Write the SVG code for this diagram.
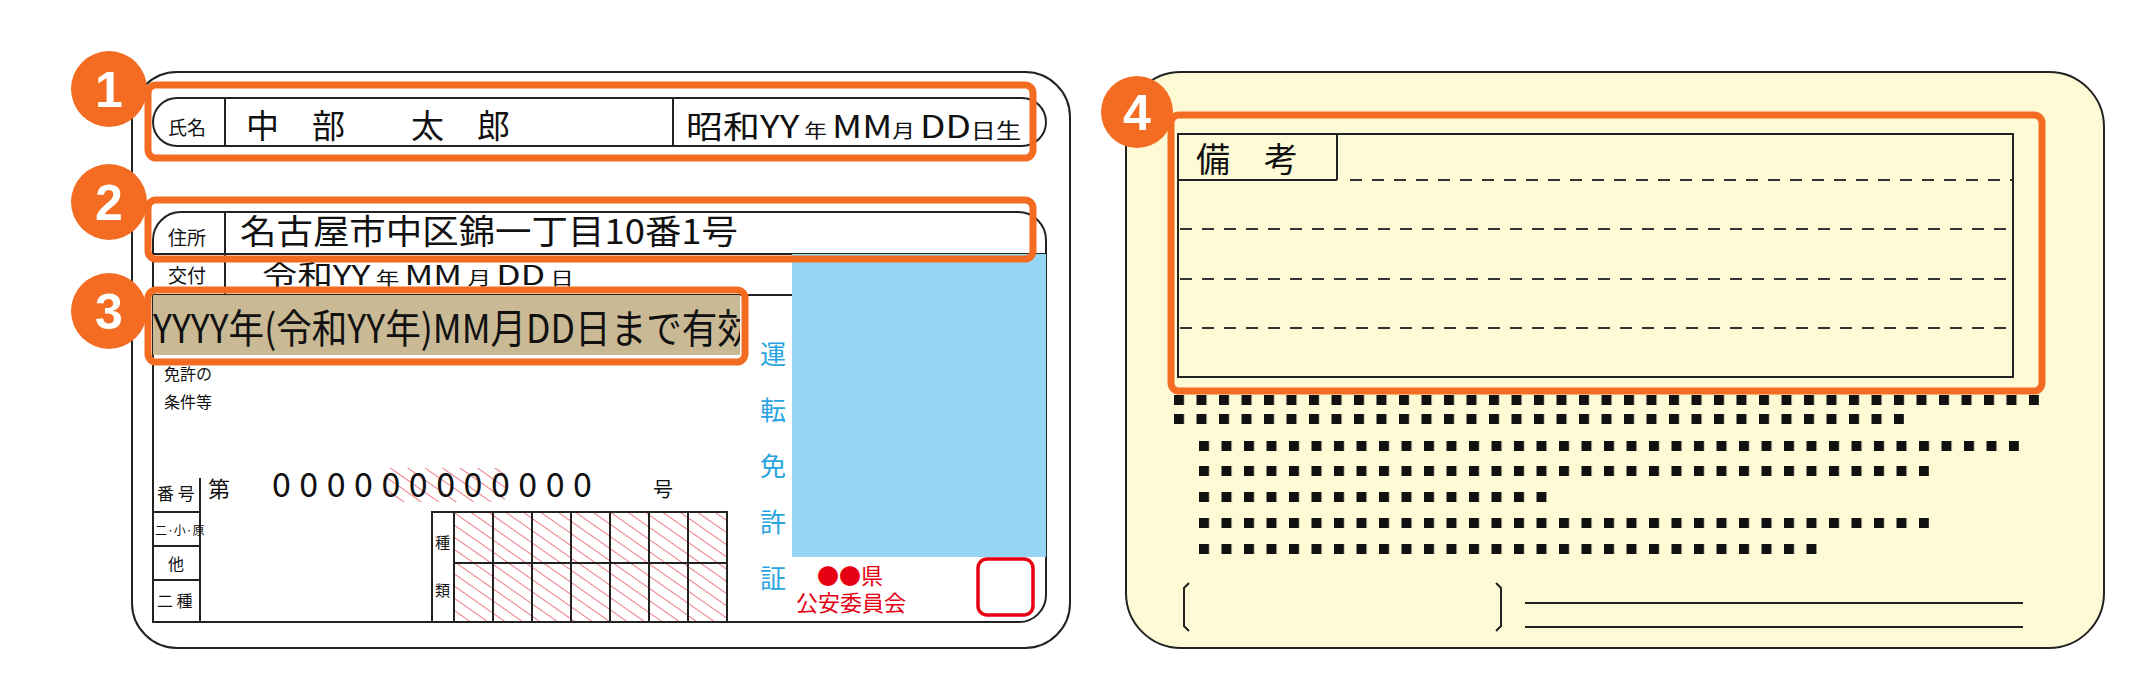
<svg xmlns="http://www.w3.org/2000/svg" width="2142" height="700" viewBox="0 0 2142 700">
<style>
.ln{fill:none;stroke:#222;stroke-width:2}
.or{fill:none;stroke:#f36c21;stroke-width:7}
.t{font-family:"Noto Sans CJK JP","Liberation Sans",sans-serif;fill:#111}
.bt{font-family:"Liberation Sans",sans-serif;font-weight:bold;fill:#fff;font-size:50px;text-anchor:middle}
.dash{stroke:#333;stroke-width:2;stroke-dasharray:12 10}
</style>
<defs>
<pattern id="hatch" width="10" height="10" patternUnits="userSpaceOnUse" patternTransform="rotate(-55)">
<rect width="10" height="10" fill="#fff"/>
<line x1="0" y1="0" x2="0" y2="10" stroke="#e8505b" stroke-width="1.5"/>
</pattern>
<pattern id="sqa" x="1174" y="0" width="22.5" height="10" patternUnits="userSpaceOnUse"><rect width="10" height="10" fill="#111"/></pattern>
<pattern id="sqb" x="1199" y="0" width="22.5" height="10" patternUnits="userSpaceOnUse"><rect width="10" height="10" fill="#111"/></pattern>
<clipPath id="c3"><rect x="153" y="295" width="587" height="60"/></clipPath>
</defs>
<rect width="2142" height="700" fill="#fff"/>
<g id="front-card">
<rect x="132" y="72" width="938" height="576" rx="45" class="ln" fill="#fff"/>
<rect x="153" y="98" width="893" height="48" rx="24" class="ln"/>
<line x1="225" y1="98" x2="225" y2="146" class="ln"/>
<line x1="673" y1="98" x2="673" y2="146" class="ln"/>
<text x="168" y="135" class="t" font-size="19">氏名</text>
<text x="246" y="138" class="t" font-size="33">中　部　　太　郎</text>
<text x="686" y="138" class="t" font-size="31" textLength="335" lengthAdjust="spacingAndGlyphs">昭和YY<tspan font-size="19"> 年 </tspan>MM<tspan font-size="19">月 </tspan>DD<tspan font-size="21">日生</tspan></text>
<path d="M153,622 V240 a28,28 0 0 1 28,-28 H1018 a28,28 0 0 1 28,28 V595 a27,27 0 0 1 -27,27 Z" class="ln"/>
<line x1="153" y1="622" x2="1019" y2="622" class="ln"/>
<line x1="225" y1="212" x2="225" y2="295" class="ln"/>
<line x1="153" y1="254" x2="1046" y2="254" class="ln"/>
<text x="168" y="245" class="t" font-size="19">住所</text>
<text x="240" y="244" class="t" font-size="34" textLength="498" lengthAdjust="spacingAndGlyphs">名古屋市中区錦一丁目10番1号</text>
<rect x="792" y="254" width="254" height="303" fill="#96d5f3"/>
<text x="168" y="283" class="t" font-size="19">交付</text>
<text x="262" y="285" class="t" font-size="27" textLength="312" lengthAdjust="spacingAndGlyphs">令和YY<tspan font-size="18"> 年 </tspan>MM<tspan font-size="18"> 月 </tspan>DD<tspan font-size="18"> 日</tspan></text>
<line x1="153" y1="295" x2="792" y2="295" class="ln"/>
<rect x="153" y="295" width="587" height="60" fill="#c9b995"/>
<text x="153" y="343" class="t" font-size="40" clip-path="url(#c3)" textLength="600" lengthAdjust="spacingAndGlyphs">YYYY年(令和YY年)MM月DD日まで有効</text>
<text x="164" y="380" class="t" font-size="16">免許の</text>
<text x="164" y="408" class="t" font-size="16">条件等</text>
<g class="t" font-size="26" style="fill:#2aa4e0">
<text x="760" y="364">運</text><text x="760" y="420">転</text><text x="760" y="476">免</text><text x="760" y="532">許</text><text x="760" y="588">証</text>
</g>
<line x1="200" y1="478" x2="200" y2="622" class="ln"/>
<line x1="153" y1="512" x2="200" y2="512" class="ln"/>
<line x1="153" y1="546" x2="200" y2="546" class="ln"/>
<line x1="153" y1="580" x2="200" y2="580" class="ln"/>
<text x="157" y="500" class="t" font-size="17">番 号</text>
<text x="155" y="535" class="t" font-size="12">二·小·原</text>
<text x="168" y="570" class="t" font-size="16">他</text>
<text x="157" y="607" class="t" font-size="16">二 種</text>
<text x="208" y="497" class="t" font-size="22">第</text>
<rect x="387" y="468" width="118" height="34" fill="url(#hatch)"/>
<text x="272" y="497" class="t" font-size="34" letter-spacing="8.5">000000000000</text>
<text x="653" y="497" class="t" font-size="20">号</text>
<rect x="454" y="512" width="273" height="110" fill="url(#hatch)"/>
<g class="ln">
<rect x="432" y="512" width="295" height="110"/>
<line x1="454" y1="512" x2="454" y2="622"/>
<line x1="454" y1="563" x2="727" y2="563"/>
<line x1="493" y1="512" x2="493" y2="622"/><line x1="532" y1="512" x2="532" y2="622"/>
<line x1="571" y1="512" x2="571" y2="622"/><line x1="610" y1="512" x2="610" y2="622"/>
<line x1="649" y1="512" x2="649" y2="622"/><line x1="688" y1="512" x2="688" y2="622"/>
</g>
<text x="435" y="548" class="t" font-size="15">種</text>
<text x="435" y="596" class="t" font-size="15">類</text>
<text x="817" y="584" class="t" font-size="22" style="fill:#e60012">●●県</text>
<text x="796" y="611" class="t" font-size="22" style="fill:#e60012">公安委員会</text>
<rect x="978" y="559" width="55" height="56" rx="9" fill="none" stroke="#e60012" stroke-width="3.5"/>
</g>
<g id="back-card">
<rect x="1126" y="72" width="978" height="576" rx="55" fill="#fffad6" stroke="#222" stroke-width="2"/>
<rect x="1178" y="134" width="835" height="243" class="ln"/>
<line x1="1337" y1="134" x2="1337" y2="180" class="ln"/>
<line x1="1178" y1="180" x2="1337" y2="180" class="ln"/>
<text x="1196" y="172" class="t" font-size="34">備　考</text>
<line x1="1350" y1="180" x2="2013" y2="180" class="dash"/>
<line x1="1180" y1="229" x2="2013" y2="229" class="dash"/>
<line x1="1180" y1="279" x2="2013" y2="279" class="dash"/>
<line x1="1180" y1="328" x2="2013" y2="328" class="dash"/>
<rect x="1174" y="395" width="865" height="10" fill="url(#sqa)"/>
<rect x="1174" y="414" width="730" height="10" fill="url(#sqa)"/>
<rect x="1199" y="441" width="820" height="10" fill="url(#sqb)"/>
<rect x="1199" y="466" width="730" height="10" fill="url(#sqb)"/>
<rect x="1199" y="492" width="348" height="10" fill="url(#sqb)"/>
<rect x="1199" y="518" width="730" height="10" fill="url(#sqb)"/>
<rect x="1199" y="544" width="618" height="10" fill="url(#sqb)"/>
<path d="M1189,583 l-5,5 v38 l5,5 M1496,583 l5,5 v38 l-5,5" class="ln"/>
<line x1="1525" y1="603" x2="2023" y2="603" class="ln"/>
<line x1="1525" y1="627" x2="2023" y2="627" class="ln"/>
</g>
<g id="connectors">
<rect x="148" y="85" width="885" height="73" rx="8" class="or"/>
<rect x="148" y="200" width="885" height="59" rx="8" class="or"/>
<rect x="148" y="290" width="597" height="72" rx="8" class="or"/>
<rect x="1171" y="115" width="871" height="276" rx="8" class="or"/>
</g>
<g id="badge1"><circle cx="109" cy="89" r="38" fill="#f36c21"/><text x="109" y="107" class="bt">1</text></g>
<g id="badge2"><circle cx="109" cy="202" r="38" fill="#f36c21"/><text x="109" y="220" class="bt">2</text></g>
<g id="badge3"><circle cx="109" cy="311" r="38" fill="#f36c21"/><text x="109" y="329" class="bt">3</text></g>
<g id="badge4"><circle cx="1137" cy="112" r="36" fill="#f36c21"/><text x="1137" y="130" class="bt">4</text></g>
</svg>
